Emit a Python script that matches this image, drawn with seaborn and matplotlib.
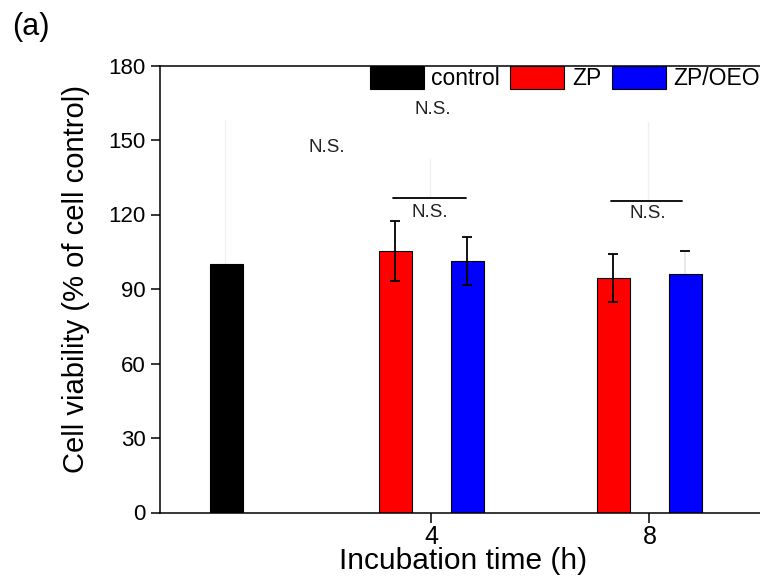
import matplotlib
matplotlib.use("Agg")
import matplotlib.pyplot as plt
import seaborn as sns
import pandas as pd

# ---- data ----
groups = ["control", "ZP", "ZP/OEO", "ZP", "ZP/OEO"]
times = [0, 4, 4, 8, 8]
viability = [100.0, 105.3, 101.3, 94.4, 96.0]
sd = [0.0, 12.0, 9.6, 9.7, 9.4]
xticks = [4, 8]
yticks = [0, 30, 60, 90, 120, 150, 180]
legend_labels = ["control", "ZP", "ZP/OEO"]
ns_label = "N.S."

# ---- style ----
sns.set_theme(style="ticks")
plt.rcParams["font.family"] = ["Liberation Sans", "DejaVu Sans"]
plt.rcParams["text.color"] = "black"
plt.rcParams["axes.labelcolor"] = "black"
plt.rcParams["xtick.color"] = "black"
plt.rcParams["ytick.color"] = "black"

colors = {"control": "#000000", "ZP": "#ff0000", "ZP/OEO": "#0000ff"}
offsets = {"control": 0.23, "ZP": -0.66, "ZP/OEO": 0.66}

df = pd.DataFrame({"group": groups, "time": times, "viability": viability, "sd": sd})
df["pos"] = df["time"] + df["group"].map(offsets)

fig = plt.figure(figsize=(7.6, 5.81), dpi=100)
ax = fig.add_axes([160 / 760, 68.5 / 581, 624 / 760, 447 / 581])

sns.barplot(data=df, x="pos", y="viability", hue="group", hue_order=legend_labels,
            palette=colors, saturation=1, native_scale=True, dodge=False, width=0.4587,
            errorbar=None, edgecolor="black", linewidth=0.8, ax=ax)

# error bars
for i, row in df.iterrows():
    if row["sd"] <= 0:
        continue
    faint = (i == 4)
    eb = ax.errorbar(row["pos"], row["viability"], yerr=row["sd"], fmt="none",
                     ecolor="black", elinewidth=1.3, capsize=3.5, capthick=1.3,
                     zorder=0.5 if faint else 5)
    if faint:
        for lc in eb[2]:
            lc.set_color("#e8e8e8")
        for cap in eb[1]:
            if cap.get_ydata()[0] > row["viability"]:
                cap.set_zorder(5)

# faint guide lines
ax.plot([0.22, 0.22], [100, 158], color="#f2f2f2", lw=1, zorder=0)
ax.plot([3.97, 3.97], [126.6, 142.3], color="#f0f0f0", lw=1, zorder=0)
ax.plot([7.97, 7.97], [125.8, 157.2], color="#f0f0f0", lw=1, zorder=0)

# significance brackets and labels
ax.plot([3.29, 4.63], [126.6, 126.6], color="black", lw=1.3, zorder=6)
ax.plot([7.29, 8.60], [125.6, 125.6], color="black", lw=1.3, zorder=6)
ns_kw = dict(ha="center", va="center", fontsize=13.5, color="#222222")
ax.text(3.97, 121.0, ns_label, **ns_kw)
ax.text(7.97, 120.6, ns_label, **ns_kw)
ax.text(4.03, 162.1, ns_label, **ns_kw)
ax.text(2.08, 146.8, ns_label, **ns_kw)

# axes
ax.set_xlim(-0.982, 10.47)
ax.set_ylim(0, 180)
ax.set_xticks(xticks)
ax.set_xticklabels([str(t) for t in xticks])
ax.set_yticks(yticks)
ax.tick_params(axis="y", direction="out", length=6.5, width=1.1, labelsize=16, pad=4, color="black")
ax.tick_params(axis="x", direction="out", length=7.2, width=1.1, labelsize=18, pad=1.5, color="black")
ax.xaxis.get_major_ticks()[1].tick1line.set_color("#dddddd")
for s in ["left", "bottom", "top"]:
    ax.spines[s].set_linewidth(1.1)
    ax.spines[s].set_color("black")
ax.spines["right"].set_visible(False)

ax.set_ylabel("Cell viability (% of cell control)", fontsize=21)
ax.set_xlabel("Incubation time (h)", fontsize=21.5)
ax.yaxis.set_label_coords(-0.112, 0.522)
ax.xaxis.set_label_coords(0.486, -0.078)

# legend
handles, labels = ax.get_legend_handles_labels()
for h in handles:
    h.set_edgecolor("black")
    h.set_linewidth(0.8)
fs = 16.5
fpx = fs * 100 / 72
ax.legend(handles, labels, loc="upper left", bbox_to_anchor=(369.6 / 760, 1 - 66 / 581),
          bbox_transform=fig.transFigure, ncol=3, frameon=False, fontsize=fs,
          handlelength=54 / fpx, handleheight=27 / fpx, handletextpad=7.5 / fpx,
          columnspacing=10.5 / fpx, borderpad=0, borderaxespad=0)

fig.text(12 / 760, 1 - 12 / 581, "(a)", fontsize=22, ha="left", va="top")

fig.savefig("out.png", dpi=100)
